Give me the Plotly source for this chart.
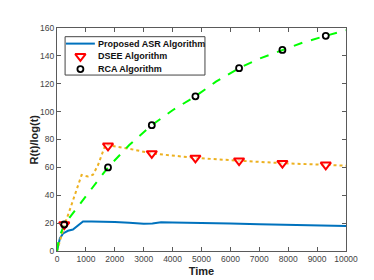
import plotly.graph_objects as go

# ---- data ----
asr_t = [0, 50, 100, 210, 380, 550, 730, 900, 1200, 1500, 2000, 2500, 3000, 3300, 3600, 4000, 4500, 5000, 6000, 7000, 8000, 9000, 10000]
asr_v = [0, 6, 9, 12.6, 14.5, 15.4, 18.4, 21.2, 21.2, 21.1, 20.8, 20.2, 19.6, 19.8, 20.6, 20.4, 20.3, 20.0, 19.7, 19.2, 18.8, 18.4, 18.0]

dsee_t = [0, 250, 500, 850, 1070, 1245, 1420, 1590, 1680, 1790, 2460, 3280, 4790, 6300, 7800, 9300, 10000]
dsee_v = [0, 18, 33, 54.5, 53.4, 54.7, 61.7, 72, 76.5, 75.8, 73.5, 70, 66.8, 64.8, 63, 61.8, 61.2]

rca_t = [0, 50, 120, 250, 600, 1000, 1765, 2500, 3280, 4000, 4790, 5500, 6300, 7000, 7800, 8500, 9300, 10000]
rca_v = [0, 7, 12, 19, 28.5, 39.4, 60, 76, 90.3, 101, 111, 121.5, 131.2, 138, 144.3, 149.5, 154.4, 158.4]

marker_t = [250, 1765, 3280, 4790, 6300, 7800, 9300]
dsee_marker_v = [19, 75.5, 70, 66.8, 64.8, 63, 61.8]
rca_marker_v = [19, 60, 90.3, 111, 131.2, 144.3, 154.4]

x_ticks = [0, 1000, 2000, 3000, 4000, 5000, 6000, 7000, 8000, 9000, 10000]
y_ticks = [0, 20, 40, 60, 80, 100, 120, 140, 160]

legend_labels = ["Proposed ASR Algorithm", "DSEE Algorithm", "RCA Algorithm"]

FONT = "Liberation Sans, Arial, sans-serif"
BLUE = "#0072BD"
ORANGE = "#EDB120"
GREEN = "#00FF00"
RED = "#FF0000"

tri_marker = dict(symbol="triangle-down", size=9, color="rgba(255,255,255,0.6)",
                  line=dict(color=RED, width=2))
circ_marker = dict(symbol="circle-open", size=6, color="#000000",
                   line=dict(color="#000000", width=1.8))

fig = go.Figure()
fig.add_trace(go.Scatter(x=asr_t, y=asr_v, mode="lines", showlegend=False,
                         line=dict(color=BLUE, width=2)))
fig.add_trace(go.Scatter(x=dsee_t, y=dsee_v, mode="lines", showlegend=False,
                         line=dict(color=ORANGE, width=2, dash="dot")))
fig.add_trace(go.Scatter(x=rca_t, y=rca_v, mode="lines", showlegend=False,
                         line=dict(color=GREEN, width=2, dash="dash")))
fig.add_trace(go.Scatter(x=marker_t, y=dsee_marker_v, mode="markers", showlegend=False,
                         marker=tri_marker))
fig.add_trace(go.Scatter(x=marker_t, y=rca_marker_v, mode="markers", showlegend=False,
                         marker=circ_marker))

# ---- hand-built legend (overlay axes in plot-fraction units) ----
LX0, LX1, LYT, LYB = 0.028, 0.512, 0.961, 0.789
row_y = [0.930, 0.873, 0.816]
sym_x0, sym_x1, txt_x = 0.031, 0.131, 0.135
sym_xc = (sym_x0 + sym_x1) / 2
fig.add_trace(go.Scatter(x=[sym_x0, sym_x1], y=[row_y[0], row_y[0]], mode="lines",
                         xaxis="x2", yaxis="y2", showlegend=False, hoverinfo="skip",
                         line=dict(color=BLUE, width=2)))
fig.add_trace(go.Scatter(x=[sym_xc], y=[row_y[1]], mode="markers",
                         xaxis="x2", yaxis="y2", showlegend=False, hoverinfo="skip",
                         marker=tri_marker))
fig.add_trace(go.Scatter(x=[sym_xc], y=[row_y[2]], mode="markers",
                         xaxis="x2", yaxis="y2", showlegend=False, hoverinfo="skip",
                         marker=circ_marker))

shapes = [dict(type="rect", xref="paper", yref="paper", x0=LX0, x1=LX1, y0=LYB, y1=LYT,
               line=dict(color="#444444", width=1), fillcolor="white", layer="below")]
annotations = []
for lbl, yy in zip(legend_labels, row_y):
    annotations.append(dict(xref="paper", yref="paper", x=txt_x, y=yy, xanchor="left", yanchor="middle",
                            text="<b>%s</b>" % lbl, showarrow=False,
                            font=dict(family=FONT, size=9, color="#111111")))
# y-axis title as annotation for exact placement
annotations.append(dict(xref="paper", yref="paper", x=-0.083, y=0.5, xanchor="center", yanchor="middle",
                        text="<b>R(t)/log(t)</b>", textangle=-90, showarrow=False,
                        font=dict(family=FONT, size=11, color="#222222")))

axis_common = dict(showline=True, linecolor="#5a5a5a", linewidth=1, mirror="ticks",
                   ticks="inside", ticklen=4, tickcolor="#5a5a5a", showgrid=False, zeroline=False,
                   tickfont=dict(family=FONT, size=8.5, color="#444444"))

fig.update_layout(
    width=374, height=280,
    margin=dict(l=49, r=36, t=20, b=32),
    paper_bgcolor="white", plot_bgcolor="white",
    showlegend=False,
    shapes=shapes, annotations=annotations,
    xaxis=dict(range=[0, 10000], tickvals=x_ticks, ticktext=[str(v) for v in x_ticks],
               title=dict(text="<b>Time</b>", font=dict(family=FONT, size=11, color="#222222"), standoff=4),
               **axis_common),
    yaxis=dict(range=[0, 160], tickvals=y_ticks, ticktext=[str(v) for v in y_ticks],
               **axis_common),
    xaxis2=dict(overlaying="x", range=[0, 1], visible=False, fixedrange=True),
    yaxis2=dict(overlaying="y", range=[0, 1], visible=False, fixedrange=True),
)

fig.write_html("out.html")
